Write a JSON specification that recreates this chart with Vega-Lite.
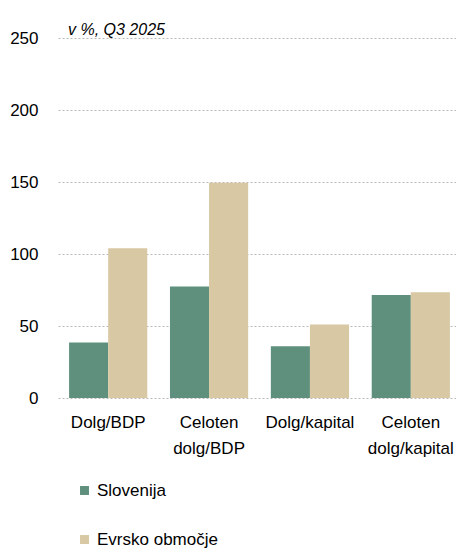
{
  "$schema": "https://vega.github.io/schema/vega-lite/v6.json",
  "autosize": "none",
  "width": 398,
  "height": 360,
  "padding": {"left": 58, "top": 38, "right": 0, "bottom": 154},
  "background": "white",
  "config": {
    "view": {"stroke": null},
    "font": "Liberation Sans",
    "axis": {"labelFont": "Liberation Sans", "labelColor": "#000000", "labelFontSize": 17}
  },
  "title": {
    "text": "v %, Q3 2025",
    "anchor": "start",
    "orient": "top",
    "frame": "group",
    "dx": 10,
    "offset": -9,
    "font": "Liberation Sans",
    "fontStyle": "italic",
    "fontWeight": "normal",
    "fontSize": 16,
    "color": "#000000"
  },
  "data": {
    "values": [
      {"kategorija": "Dolg/BDP", "serija": "Slovenija", "vrednost": 38.5},
      {"kategorija": "Dolg/BDP", "serija": "Evrsko območje", "vrednost": 104},
      {"kategorija": "Celoten dolg/BDP", "serija": "Slovenija", "vrednost": 77.5},
      {"kategorija": "Celoten dolg/BDP", "serija": "Evrsko območje", "vrednost": 149.5},
      {"kategorija": "Dolg/kapital", "serija": "Slovenija", "vrednost": 36},
      {"kategorija": "Dolg/kapital", "serija": "Evrsko območje", "vrednost": 51},
      {"kategorija": "Celoten dolg/kapital", "serija": "Slovenija", "vrednost": 71.5},
      {"kategorija": "Celoten dolg/kapital", "serija": "Evrsko območje", "vrednost": 73.5}
    ]
  },
  "mark": {"type": "bar"},
  "encoding": {
    "x": {
      "field": "kategorija",
      "type": "nominal",
      "sort": ["Dolg/BDP", "Celoten dolg/BDP", "Dolg/kapital", "Celoten dolg/kapital"],
      "scale": {"paddingInner": 0.225, "paddingOuter": 0.11, "range": [0, 403]},
      "axis": {
        "title": null,
        "domain": false,
        "ticks": false,
        "labelAngle": 0,
        "labelPadding": 16,
        "labelLineHeight": 26,
        "labelExpr": "split(datum.label, ' ')"
      }
    },
    "xOffset": {
      "field": "serija",
      "type": "nominal",
      "sort": ["Slovenija", "Evrsko območje"],
      "scale": {"paddingInner": 0, "paddingOuter": 0}
    },
    "y": {
      "field": "vrednost",
      "type": "quantitative",
      "scale": {"domain": [0, 250], "nice": false},
      "axis": {
        "title": null,
        "values": [0, 50, 100, 150, 200, 250],
        "domain": false,
        "ticks": false,
        "labelPadding": 20,
        "grid": true,
        "gridColor": "#b8b8b8",
        "gridDash": [2, 2],
        "gridWidth": 1
      }
    },
    "color": {
      "field": "serija",
      "type": "nominal",
      "sort": ["Slovenija", "Evrsko območje"],
      "scale": {"range": ["#5f8f7d", "#d8c8a3"]},
      "legend": {
        "title": null,
        "orient": "none",
        "legendX": 18,
        "legendY": 444,
        "direction": "vertical",
        "symbolType": "square",
        "symbolSize": 80,
        "symbolStrokeWidth": 0,
        "labelFont": "Liberation Sans",
        "labelFontSize": 17,
        "labelColor": "#000000",
        "labelOffset": 4,
        "rowPadding": 31
      }
    }
  }
}
